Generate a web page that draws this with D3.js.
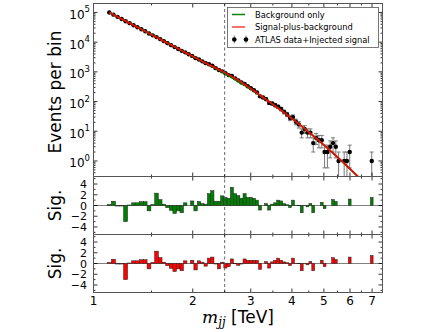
<!DOCTYPE html>
<html>
<head>
<meta charset="utf-8">
<script src="https://cdn.jsdelivr.net/npm/d3@7/dist/d3.min.js"></script>
<style>
  body { margin: 0; background: #fff; }
  svg { display: block; }
  text { font-family: "DejaVu Sans", sans-serif; fill: #000; }
</style>
</head>
<body>
<div id="chart"></div>
<script>
// bin edges of the dijet mass spectrum, TeV
const binEdges = [
  1.100, 1.133, 1.166, 1.200, 1.234, 1.269, 1.305, 1.341, 1.378, 1.416,
  1.454, 1.493, 1.533, 1.573, 1.614, 1.656, 1.698, 1.741, 1.785, 1.830,
  1.875, 1.921, 1.968, 2.016, 2.065, 2.114, 2.164, 2.215, 2.267, 2.320,
  2.374, 2.429, 2.485, 2.542, 2.600, 2.659, 2.719, 2.780, 2.842, 2.905,
  2.969, 3.034, 3.100, 3.167, 3.235, 3.305, 3.376, 3.448, 3.521, 3.596,
  3.672, 3.749, 3.827, 3.907, 3.988, 4.070, 4.154, 4.239, 4.326, 4.414,
  4.504, 4.595, 4.688, 4.782, 4.878, 4.975, 5.074, 5.175, 5.277, 5.381,
  5.487, 5.595, 5.705, 5.817, 5.931, 6.047, 6.165, 6.285, 6.407, 6.531,
  6.658, 6.787, 6.918, 7.052
];

// events per bin (data + injected signal)
const dataCounts = [
  99850, 84410, 71140, 60310, 50550, 43520, 37130, 31690, 27080, 23160,
  19600, 16950, 14810, 12620, 10790, 9236, 7933, 6800, 5911, 5089,
  4535, 3907, 3444, 2895, 2605, 2256, 1965, 1797, 1596, 1330,
  1160, 1041, 898, 777, 726, 604, 516, 437, 393, 327,
  282, 241, 203, 150, 137, 120, 90, 86, 75, 67,
  56, 45, 37, 28, 30, 21, 17, 9, 12, 9,
  9, 4, 6, 5, 5, 2, 2, 3, 4, 3,
  1, 0, 1, 1, 2, 0, 0, 0, 0, 0,
  0, 0, 1
];

// background-only fit
const bkgFit = [
  99790, 84180, 71170, 60330, 51230, 43500, 37030, 31600, 26960, 23050,
  19740, 16920, 14530, 12500, 10760, 9275, 8014, 6925, 5988, 5186,
  4501, 3907, 3394, 2949, 2567, 2239, 1954, 1706, 1490, 1301,
  1133, 984.6, 854.5, 740, 639.7, 552.2, 475.7, 409.3, 351.6, 301.5,
  258.3, 220.9, 188.7, 160.9, 137.0, 116.4, 98.7, 83.6, 70.7, 59.6,
  50.2, 42.4, 35.7, 29.9, 25.1, 21.0, 17.6, 14.7, 12.2, 10.2,
  8.47, 7.03, 5.83, 4.83, 3.99, 3.30, 2.72, 2.24, 1.84, 1.51,
  1.24, 1.015, 0.830, 0.677, 0.552, 0.449, 0.364, 0.296, 0.240, 0.194,
  0.156, 0.126, 0.1015
];

// signal-plus-background fit
const sbFit = [
  99790, 84180, 71170, 60330, 51230, 43500, 37030, 31600, 26960, 23050,
  19740, 16920, 14530, 12500, 10760, 9275, 8014, 6925, 5988, 5186,
  4501, 3907, 3399, 2957, 2577, 2253, 1974, 1741, 1535, 1356,
  1193, 1050, 922.5, 808, 704.7, 610.2, 525.7, 449.3, 381.6, 323.5,
  273.3, 230.9, 194.7, 163.9, 137.0, 116.4, 98.7, 83.6, 70.7, 59.6,
  50.2, 42.4, 35.7, 29.9, 25.1, 21.0, 17.6, 14.7, 12.2, 10.2,
  8.47, 7.03, 5.83, 4.83, 3.99, 3.30, 2.72, 2.24, 1.84, 1.51,
  1.24, 1.015, 0.830, 0.677, 0.552, 0.449, 0.364, 0.296, 0.240, 0.194,
  0.156, 0.126, 0.1015
];

// significance of data w.r.t. background-only fit
const sigBkg = [
  0.2, 0.8, -0.1, -0.1, -3.0, 0.1, 0.5, 0.5, 0.7, 0.7,
  -1.0, 0.2, 2.3, 1.1, 0.25, -0.4, -0.9, -1.5, -1.0, -1.35,
  0.5, 0.0, 0.85, -1.0, 0.75, 0.35, 0.25, 2.2, 2.75, 0.8,
  0.8, 1.8, 1.5, 1.35, 3.4, 2.2, 1.85, 1.35, 2.2, 1.5,
  1.5, 1.35, 1.0, -0.85, 0.0, 0.35, -0.85, 0.25, 0.5, 1.0,
  0.85, 0.35, 0.15, -0.4, 1.0, 0.05, -0.05, -1.35, 0.05, -0.25,
  0.35, -1.35, 0, 0, 0.6, -0.6, 0, 0, 1.1, 0.75,
  0, 0, 0, 0, 1.2, 0, 0, 0, 0, 0,
  0, 0, 1.5
];

// significance of data w.r.t. signal-plus-background fit
const sigSB = [
  0.2, 0.8, -0.1, -0.1, -3.0, 0.1, 0.5, 0.5, 0.7, 0.7,
  -1.0, 0.2, 2.3, 1.1, 0.25, -0.4, -0.9, -1.5, -1.0, -1.35,
  0.5, 0.0, 0.6, -1.2, 0.5, 0.25, -0.5, 1.0, 1.2, -0.1,
  -1.0, 0.25, -0.85, -0.6, 0.85, -0.05, -0.35, -0.1, 0.85, 0.6,
  0.6, 0.6, 0.6, -1.1, 0.0, 0.35, -0.85, 0.3, 0.6, 1.0,
  0.6, 0.3, 0.15, -0.4, 1.0, 0.05, -0.05, -1.35, 0.05, -0.25,
  0.35, -1.35, 0, 0, 0.6, -0.6, 0, 0, 1.1, 0.75,
  0, 0, 0, 0, 1.2, 0, 0, 0, 0, 0,
  0, 0, 1.5
];

const xTickValues = [1, 2, 3, 4, 5, 6, 7];
const yTickPowers = [0, 1, 2, 3, 4, 5];
const sigTickValues = [-4, -2, 0, 2, 4];
const signalMass = 2.5;

const width = 430, height = 332;
const L = 93.5, R = 382.5;
const panels = [
  { top: 3.5, bottom: 176.5 },
  { top: 176.5, bottom: 234.5 },
  { top: 234.5, bottom: 292.5 }
];

const bins = d3.range(binEdges.length - 1).map(i => ({
  lo: binEdges[i],
  hi: binEdges[i + 1],
  mid: (binEdges[i] + binEdges[i + 1]) / 2,
  n: dataCounts[i],
  bkg: bkgFit[i],
  sb: sbFit[i],
  sigB: sigBkg[i],
  sigS: sigSB[i]
}));

const x = d3.scaleLog().domain([1, 7.53]).range([L, R]);
const y = d3.scaleLog().domain([0.3, 2e5]).range([panels[0].bottom, panels[0].top]);
const ySig1 = d3.scaleLinear().domain([-5.4, 5.4]).range([panels[1].bottom, panels[1].top]);
const ySig2 = d3.scaleLinear().domain([-5.4, 5.4]).range([panels[2].bottom, panels[2].top]);

const svg = d3.select('#chart').append('svg')
  .attr('width', width)
  .attr('height', height);

// clip paths for each panel
panels.forEach((p, i) => {
  svg.append('clipPath').attr('id', `clip${i}`)
    .append('rect')
    .attr('x', L).attr('y', p.top)
    .attr('width', R - L).attr('height', p.bottom - p.top);
});

// ---- main panel ----
const main = svg.append('g').attr('clip-path', 'url(#clip0)');

const pts = bins.filter(d => d.n > 0);
const errs = main.append('g').attr('stroke', '#777').attr('stroke-width', 1);
pts.forEach(d => {
  const e = Math.sqrt(d.n);
  const cx = x(d.mid);
  const yHi = y(d.n + e);
  const yLo = d.n - e > 0 ? y(d.n - e) : panels[0].bottom + 5;
  errs.append('line').attr('x1', cx).attr('x2', cx).attr('y1', yHi).attr('y2', yLo);
  errs.append('line').attr('x1', cx - 2).attr('x2', cx + 2).attr('y1', yHi).attr('y2', yHi);
  errs.append('line').attr('x1', cx - 2).attr('x2', cx + 2).attr('y1', yLo).attr('y2', yLo);
});

main.selectAll('circle.pt')
  .data(pts)
  .enter()
  .append('circle')
  .attr('class', 'pt')
  .attr('cx', d => x(d.mid))
  .attr('cy', d => y(d.n))
  .attr('r', 2.2)
  .attr('fill', '#000');

// fit curves are drawn over the points
const fitLine = key => d3.line()
  .x(d => x(d.mid))
  .y(d => y(d[key]));

main.append('path')
  .datum(bins)
  .attr('d', fitLine('bkg'))
  .attr('fill', 'none')
  .attr('stroke', '#008000')
  .attr('stroke-width', 1.8);

main.append('path')
  .datum(bins)
  .attr('d', fitLine('sb'))
  .attr('fill', 'none')
  .attr('stroke', '#ff0000')
  .attr('stroke-width', 1.6);

// ---- significance panels ----
function sigPanel(idx, ys, key, fill) {
  const g = svg.append('g').attr('clip-path', `url(#clip${idx})`);
  g.append('line')
    .attr('x1', L).attr('x2', R)
    .attr('y1', ys(0)).attr('y2', ys(0))
    .attr('stroke', '#808080').attr('stroke-width', 1);
  g.selectAll('rect')
    .data(bins.filter(d => d[key] !== 0))
    .enter()
    .append('rect')
    .attr('x', d => x(d.lo))
    .attr('width', d => x(d.hi) - x(d.lo))
    .attr('y', d => ys(Math.max(0, d[key])))
    .attr('height', d => Math.abs(ys(d[key]) - ys(0)))
    .attr('fill', fill)
    .attr('stroke', '#222')
    .attr('stroke-width', 0.5);
}
sigPanel(1, ySig1, 'sigB', '#008000');
sigPanel(2, ySig2, 'sigS', '#ff0000');

// dashed signal mass line across all panels
svg.append('line')
  .attr('x1', x(signalMass)).attr('x2', x(signalMass))
  .attr('y1', panels[0].top).attr('y2', panels[2].bottom)
  .attr('stroke', '#555')
  .attr('stroke-width', 0.9)
  .attr('stroke-dasharray', '3,2.5');

// ---- frames and ticks ----
const ticks = svg.append('g').attr('stroke', '#000').attr('stroke-width', 0.8);
panels.forEach(p => {
  svg.append('rect')
    .attr('x', L).attr('y', p.top)
    .attr('width', R - L).attr('height', p.bottom - p.top)
    .attr('fill', 'none')
    .attr('stroke', '#555')
    .attr('stroke-width', 1);
  xTickValues.forEach(v => {
    ticks.append('line').attr('x1', x(v)).attr('x2', x(v)).attr('y1', p.bottom).attr('y2', p.bottom - 4);
    ticks.append('line').attr('x1', x(v)).attr('x2', x(v)).attr('y1', p.top).attr('y2', p.top + 4);
  });
  d3.range(1.5, 7.5, 1).forEach(v => {
    ticks.append('line').attr('x1', x(v)).attr('x2', x(v)).attr('y1', p.bottom).attr('y2', p.bottom - 2);
    ticks.append('line').attr('x1', x(v)).attr('x2', x(v)).attr('y1', p.top).attr('y2', p.top + 2);
  });
});

// main y ticks
yTickPowers.forEach(pw => {
  const yy = y(Math.pow(10, pw));
  ticks.append('line').attr('x1', L).attr('x2', L + 4).attr('y1', yy).attr('y2', yy);
  ticks.append('line').attr('x1', R).attr('x2', R - 4).attr('y1', yy).attr('y2', yy);
  const t = svg.append('text')
    .attr('x', 90).attr('y', yy + 6.5)
    .attr('text-anchor', 'end')
    .style('font-size', '12px');
  t.append('tspan').text('10');
  t.append('tspan').attr('dy', -6.5).style('font-size', '8.5px').text(pw);
});
d3.range(-1, 6).forEach(pw => {
  d3.range(2, 10).forEach(m => {
    const v = m * Math.pow(10, pw);
    const yy = y(v);
    if (yy < panels[0].top || yy > panels[0].bottom) return;
    ticks.append('line').attr('x1', L).attr('x2', L + 2).attr('y1', yy).attr('y2', yy);
    ticks.append('line').attr('x1', R).attr('x2', R - 2).attr('y1', yy).attr('y2', yy);
  });
});

// significance y ticks
[ySig1, ySig2].forEach(ys => {
  sigTickValues.forEach(v => {
    ticks.append('line').attr('x1', L).attr('x2', L + 4).attr('y1', ys(v)).attr('y2', ys(v));
    ticks.append('line').attr('x1', R).attr('x2', R - 4).attr('y1', ys(v)).attr('y2', ys(v));
    svg.append('text')
      .attr('x', 87).attr('y', ys(v) + 4)
      .attr('text-anchor', 'end')
      .style('font-size', '11px')
      .text(v < 0 ? '\u2212' + Math.abs(v) : v);
  });
  [-5, -3, -1, 1, 3, 5].forEach(v => {
    ticks.append('line').attr('x1', L).attr('x2', L + 2).attr('y1', ys(v)).attr('y2', ys(v));
    ticks.append('line').attr('x1', R).attr('x2', R - 2).attr('y1', ys(v)).attr('y2', ys(v));
  });
});

// x tick labels
xTickValues.forEach(v => {
  svg.append('text')
    .attr('x', x(v)).attr('y', panels[2].bottom + 12)
    .attr('text-anchor', 'middle')
    .style('font-size', '12px')
    .text(v);
});

// axis titles
svg.append('text')
  .attr('transform', `translate(61,${(panels[0].top + panels[0].bottom) / 2 + 2}) rotate(-90)`)
  .attr('text-anchor', 'middle')
  .style('font-size', '17px')
  .text('Events per bin');
[1, 2].forEach(i => {
  svg.append('text')
    .attr('transform', `translate(61,${(panels[i].top + panels[i].bottom) / 2}) rotate(-90)`)
    .attr('text-anchor', 'middle')
    .style('font-size', '17px')
    .text('Sig.');
});

const xt = svg.append('text')
  .attr('x', 238).attr('y', 322.5)
  .attr('text-anchor', 'middle')
  .style('font-size', '17px');
xt.append('tspan').style('font-family', '"DejaVu Serif", serif').style('font-style', 'italic').text('m');
xt.append('tspan').attr('dy', 3).style('font-family', '"DejaVu Serif", serif').style('font-style', 'italic').style('font-size', '12px').text('jj');
xt.append('tspan').attr('dy', -3).text(' [TeV]');

// ---- legend ----
const lg = svg.append('g');
lg.append('rect')
  .attr('x', 227.5).attr('y', 7.5)
  .attr('width', 151).attr('height', 40)
  .attr('fill', '#fff')
  .attr('stroke', '#555')
  .attr('stroke-width', 0.8);
const legendItems = [
  { label: 'Background only', type: 'line', color: '#008000' },
  { label: 'Signal-plus-background', type: 'line', color: '#ff4040' },
  { label: 'ATLAS data+Injected signal', type: 'point', color: '#000' }
];
legendItems.forEach((it, i) => {
  const yy = 14.5 + i * 12.5;
  if (it.type === 'line') {
    lg.append('line')
      .attr('x1', 232).attr('x2', 245)
      .attr('y1', yy).attr('y2', yy)
      .attr('stroke', it.color).attr('stroke-width', 1.5);
  } else {
    [234.3, 246].forEach(cx => {
      lg.append('line').attr('x1', cx).attr('x2', cx).attr('y1', yy - 4).attr('y2', yy + 4)
        .attr('stroke', '#555').attr('stroke-width', 0.8);
      lg.append('circle').attr('cx', cx).attr('cy', yy).attr('r', 2.3).attr('fill', '#000');
    });
  }
  lg.append('text')
    .attr('x', 255).attr('y', yy + 3)
    .style('font-size', '8.3px')
    .text(it.label);
});
</script>
</body>
</html>
